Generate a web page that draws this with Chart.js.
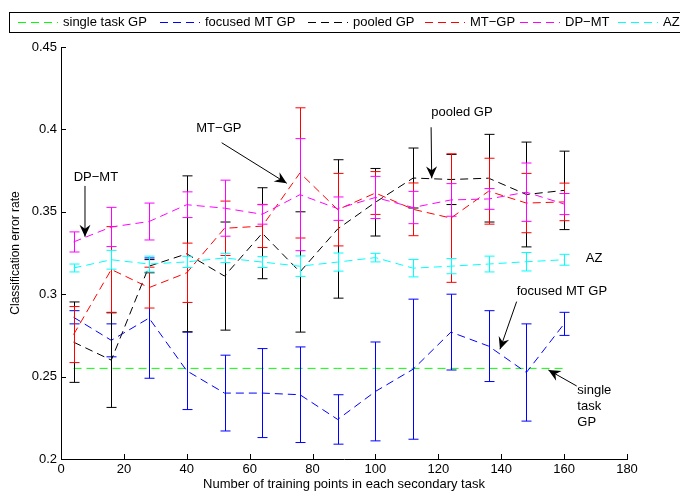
<!DOCTYPE html>
<html>
<head>
<meta charset="utf-8">
<script src="https://cdn.jsdelivr.net/npm/chart.js@4/dist/chart.umd.min.js"></script>
<style>
html,body{margin:0;padding:0;background:#fff;}
#wrap{width:680px;height:495px;position:relative;}
</style>
</head>
<body>
<div id="wrap"><canvas id="c" width="680" height="495"></canvas></div>
<script>
// ---- data ----
const xs = [4, 16, 28, 40, 52, 64, 76, 88, 100, 112, 124, 136, 148, 160];

const singleTaskMean = [0.255, 0.255, 0.255, 0.255, 0.255, 0.255, 0.255, 0.255, 0.255, 0.255, 0.255, 0.255, 0.255, 0.255];

const focusedMean = [0.286, 0.272, 0.2855, 0.2535, 0.240, 0.240, 0.239, 0.224, 0.241, 0.2545, 0.277, 0.2685, 0.2525, 0.282];
const focusedErr  = [0.004, 0.010, 0.0365, 0.0235, 0.023, 0.027, 0.029, 0.015, 0.030, 0.0425, 0.023, 0.0215, 0.0295, 0.007];

const pooledMean = [0.2709, 0.260, 0.317, 0.3245, 0.311, 0.337, 0.3135, 0.3396, 0.3558, 0.3705, 0.3696, 0.3704, 0.3605, 0.363];
const pooledErr  = [0.0244, 0.0287, 0.004, 0.0473, 0.0328, 0.0276, 0.0365, 0.042, 0.0205, 0.0182, 0.0152, 0.0266, 0.0318, 0.0238];

const mtgpMean = [0.2755, 0.315, 0.304, 0.313, 0.340, 0.3413, 0.3736, 0.3513, 0.3614, 0.3515, 0.3462, 0.3625, 0.3553, 0.356];
const mtgpErr  = [0.017, 0.026, 0.0124, 0.018, 0.0165, 0.013, 0.0395, 0.022, 0.013, 0.016, 0.039, 0.020, 0.018, 0.0114];

const dpmtMean = [0.3317, 0.3408, 0.3441, 0.3543, 0.3522, 0.3485, 0.3604, 0.3519, 0.3587, 0.3526, 0.3572, 0.3578, 0.3619, 0.3547];
const dpmtErr  = [0.0061, 0.0119, 0.0112, 0.0078, 0.017, 0.006, 0.034, 0.0071, 0.0128, 0.0098, 0.0099, 0.0063, 0.0177, 0.0064];

const azMean = [0.3159, 0.3209, 0.3183, 0.3196, 0.322, 0.3195, 0.317, 0.3195, 0.3222, 0.3158, 0.317, 0.3183, 0.3197, 0.3209];
const azErr  = [0.0024, 0.0057, 0.0048, 0.0034, 0.0028, 0.0033, 0.0062, 0.0055, 0.0026, 0.0053, 0.0046, 0.0048, 0.0056, 0.0033];

const seriesNames = ['single task GP', 'focused MT GP', 'pooled GP', 'MT\u2212GP', 'DP\u2212MT', 'AZ'];
const xTicks = [0, 20, 40, 60, 80, 100, 120, 140, 160, 180];
const yTicks = [0.2, 0.25, 0.3, 0.35, 0.4, 0.45];

// ---- build ----
const FONT = '"Liberation Sans", Arial, Helvetica, sans-serif';
const DASH = [8, 5];
const colors = ['#00ff00', '#0000ff', '#000000', '#ff0000', '#ff00ff', '#00ffff'];
const means = [singleTaskMean, focusedMean, pooledMean, mtgpMean, dpmtMean, azMean];
const errs = [null, focusedErr, pooledErr, mtgpErr, dpmtErr, azErr];

const datasets = means.map((m, i) => ({
  label: seriesNames[i],
  data: xs.map((x, k) => ({x: x, y: m[k]})),
  errors: errs[i],
  borderColor: colors[i],
  backgroundColor: colors[i],
  borderWidth: 1,
  borderDash: DASH,
  pointRadius: 0,
  fill: false,
  tension: 0,
  order: 6 - i
}));

const annotations = [
  {text: ['DP\u2212MT'], x: 11.1, y: 0.3708, align: 'center', arrow: [7.63, 0.3657, 7.63, 0.3349]},
  {text: ['MT\u2212GP'], x: 50.2, y: 0.4005, align: 'center', arrow: [51.1, 0.3919, 71.8, 0.3673]},
  {text: ['pooled GP'], x: 127.5, y: 0.4106, align: 'center', arrow: [117.7, 0.4013, 117.9, 0.3703]},
  {text: ['AZ'], x: 166.9, y: 0.322, align: 'left'},
  {text: ['focused MT GP'], x: 159.3, y: 0.3015, align: 'center', arrow: [144.9, 0.2955, 139.6, 0.2666]},
  {text: ['single', 'task', 'GP'], x: 164.2, y: 0.2419, align: 'left', lineStep: 0.0098, arrow: [164.0, 0.2443, 155.0, 0.254]}
];

function arrow(ctx, x1, y1, x2, y2) {
  ctx.beginPath();
  ctx.moveTo(x1, y1);
  ctx.lineTo(x2, y2);
  ctx.strokeStyle = '#000';
  ctx.lineWidth = 1;
  ctx.setLineDash([]);
  ctx.stroke();
  const a = Math.atan2(y2 - y1, x2 - x1);
  const L = 12, W = 5.5, N = 8;
  const bx = x2 - L * Math.cos(a), by = y2 - L * Math.sin(a);
  const nx = x2 - N * Math.cos(a), ny = y2 - N * Math.sin(a);
  ctx.beginPath();
  ctx.moveTo(x2, y2);
  ctx.lineTo(bx + W * Math.sin(a), by - W * Math.cos(a));
  ctx.lineTo(nx, ny);
  ctx.lineTo(bx - W * Math.sin(a), by + W * Math.cos(a));
  ctx.closePath();
  ctx.fillStyle = '#000';
  ctx.fill();
}

const deco = {
  id: 'deco',
  afterDatasetDraw(chart, args) {
    const ds = chart.data.datasets[args.index];
    if (!ds.errors) return;
    const ctx = chart.ctx, xs_ = chart.scales.x, ys_ = chart.scales.y;
    ctx.save();
    ctx.strokeStyle = ds.borderColor;
    ctx.lineWidth = 1;
    ctx.setLineDash([]);
    ds.data.forEach((p, k) => {
      const e = ds.errors[k];
      const px = Math.round(xs_.getPixelForValue(p.x)) + 0.5;
      const yt = ys_.getPixelForValue(p.y + e);
      const yb = ys_.getPixelForValue(p.y - e);
      ctx.beginPath();
      ctx.moveTo(px, yt); ctx.lineTo(px, yb);
      ctx.moveTo(px - 5, yt); ctx.lineTo(px + 5, yt);
      ctx.moveTo(px - 5, yb); ctx.lineTo(px + 5, yb);
      ctx.stroke();
    });
    ctx.restore();
  },
  afterDraw(chart) {
    const ctx = chart.ctx, xs_ = chart.scales.x, ys_ = chart.scales.y;
    const a = chart.chartArea;
    ctx.save();
    ctx.setLineDash([]);
    ctx.strokeStyle = '#000';
    ctx.lineWidth = 1;
    // inward ticks
    ctx.beginPath();
    xTicks.forEach(v => {
      const px = Math.round(xs_.getPixelForValue(v)) + 0.5;
      ctx.moveTo(px, a.bottom); ctx.lineTo(px, a.bottom - 5);
    });
    yTicks.forEach(v => {
      const py = Math.round(ys_.getPixelForValue(v)) + 0.5;
      ctx.moveTo(a.left, py); ctx.lineTo(a.left + 5, py);
    });
    ctx.stroke();

    // annotations
    ctx.font = '13px ' + FONT;
    ctx.fillStyle = '#000';
    ctx.textBaseline = 'middle';
    annotations.forEach(an => {
      ctx.textAlign = an.align;
      an.text.forEach((t, j) => {
        const yy = an.y - j * (an.lineStep || 0);
        ctx.fillText(t, xs_.getPixelForValue(an.x), ys_.getPixelForValue(yy));
      });
      if (an.arrow) {
        arrow(ctx, xs_.getPixelForValue(an.arrow[0]), ys_.getPixelForValue(an.arrow[1]),
                   xs_.getPixelForValue(an.arrow[2]), ys_.getPixelForValue(an.arrow[3]));
      }
    });

    // legend
    ctx.lineWidth = 1;
    ctx.strokeStyle = '#000';
    ctx.fillStyle = '#fff';
    ctx.fillRect(9.5, 12.5, 680, 20);
    ctx.strokeRect(9.5, 12.5, 680, 20);
    const legendX = [18, 160, 308, 425, 520, 618];
    ctx.textAlign = 'left';
    ctx.textBaseline = 'middle';
    chart.data.datasets.forEach((ds, i) => {
      const lx = legendX[i];
      ctx.strokeStyle = ds.borderColor;
      ctx.setLineDash(DASH);
      ctx.beginPath();
      ctx.moveTo(lx, 22.5); ctx.lineTo(lx + 40, 22.5);
      ctx.stroke();
      ctx.setLineDash([]);
      ctx.fillStyle = '#000';
      ctx.fillText(ds.label, lx + 45, 22.5);
    });
    ctx.restore();
  }
};

new Chart(document.getElementById('c'), {
  type: 'line',
  data: {datasets: datasets},
  options: {
    responsive: false,
    animation: false,
    devicePixelRatio: 1,
    layout: {padding: {top: 47, right: 53, left: 0, bottom: 0}},
    plugins: {legend: {display: false}, tooltip: {enabled: false}},
    scales: {
      x: {
        type: 'linear', min: 0, max: 180,
        afterFit(s) { s.height = 36; },
        afterBuildTicks(s) { s.ticks = xTicks.map(v => ({value: v})); },
        grid: {display: false, drawTicks: false},
        border: {display: true, color: '#000', width: 1},
        ticks: {color: '#000', font: {family: FONT, size: 13}, padding: 3, maxRotation: 0, autoSkip: false},
        title: {display: true, text: 'Number of training points in each secondary task', color: '#000',
                font: {family: FONT, size: 13}, padding: {top: 0, bottom: 3}}
      },
      y: {
        type: 'linear', min: 0.2, max: 0.45,
        afterFit(s) { s.width = 61; },
        afterBuildTicks(s) { s.ticks = yTicks.map(v => ({value: v})); },
        grid: {display: false, drawTicks: false},
        border: {display: true, color: '#000', width: 1},
        ticks: {color: '#000', font: {family: FONT, size: 13}, padding: 4,
                callback: v => String(parseFloat(Number(v).toFixed(2)))},
        title: {display: true, text: 'Classification error rate', color: '#000',
                font: {family: FONT, size: 12}, padding: {top: 8, bottom: 0}}
      }
    }
  },
  plugins: [deco]
});
</script>
</body>
</html>
